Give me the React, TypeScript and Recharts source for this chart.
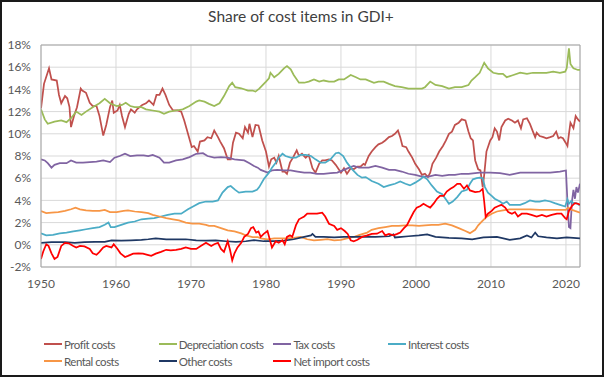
import React from 'react';
import { LineChart, Line, XAxis, YAxis, CartesianGrid, ReferenceLine } from 'recharts';

// [year, share %] pairs
const profitCosts: [number, number][] = [
    [1950.0, 12.3], [1950.4, 14.5], [1951.07, 15.9], [1951.4, 14.9], [1952.1, 14.8], [1952.4, 13.5], [1952.7, 12.75],
    [1953.2, 13.4], [1953.5, 13.2], [1953.8, 12.4], [1954.0, 10.6], [1954.4, 11.6], [1954.8, 12.4], [1955.3, 14.07],
    [1955.5, 13.9], [1956.0, 13.7], [1956.5, 12.8], [1956.9, 12.5], [1957.4, 12.5], [1957.8, 11.6], [1958.3, 9.84],
    [1958.7, 10.8], [1959.2, 12.4], [1959.5, 13.0], [1959.7, 11.9], [1960.2, 12.1], [1960.5, 12.6], [1960.8, 11.6],
    [1961.2, 10.6], [1961.7, 11.8], [1962.0, 12.2], [1962.5, 11.9], [1962.8, 12.2], [1963.5, 12.6], [1964.0, 12.75],
    [1964.4, 13.0], [1965.0, 12.6], [1965.4, 13.5], [1965.8, 13.5], [1966.2, 14.07], [1966.6, 13.5], [1967.1, 12.6],
    [1967.6, 12.1], [1968.2, 12.1], [1968.7, 12.0], [1969.1, 11.2], [1969.6, 10.0], [1970.1, 8.8], [1970.4, 8.9],
    [1970.9, 8.4], [1971.2, 9.3], [1971.8, 9.4], [1972.2, 9.7], [1972.7, 9.6], [1973.1, 10.3], [1973.6, 9.7],
    [1973.9, 9.3], [1974.4, 8.7], [1974.9, 7.7], [1975.3, 7.7], [1975.6, 9.2], [1976.0, 10.1], [1976.4, 10.0],
    [1976.9, 9.6], [1977.2, 10.6], [1977.6, 10.1], [1977.8, 10.9], [1978.2, 9.7], [1978.6, 10.8], [1979.0, 10.75],
    [1979.1, 10.5], [1979.5, 9.4], [1980.0, 8.4], [1980.4, 7.06], [1980.7, 7.7], [1981.1, 7.85], [1981.4, 7.4],
    [1981.7, 8.0], [1982.2, 6.6], [1982.5, 6.6], [1982.8, 6.4], [1983.2, 7.4], [1983.6, 7.85], [1984.1, 8.5],
    [1984.4, 8.0], [1984.8, 8.2], [1985.3, 7.85], [1985.7, 8.1], [1986.2, 6.9], [1986.6, 6.5], [1987.1, 7.3],
    [1987.5, 7.6], [1987.9, 7.6], [1988.4, 7.7], [1988.8, 7.6], [1989.3, 7.2], [1989.7, 6.8], [1990.0, 6.5],
    [1990.4, 6.9], [1990.8, 6.4], [1991.3, 6.9], [1991.7, 6.8], [1992.2, 7.05], [1992.6, 7.05], [1993.0, 7.3],
    [1993.2, 7.2], [1993.7, 8.0], [1994.1, 8.4], [1994.6, 8.8], [1995.0, 9.05], [1995.5, 9.2], [1995.9, 9.4],
    [1996.4, 9.7], [1996.8, 9.8], [1997.2, 10.0], [1997.6, 10.3], [1997.9, 9.7], [1998.2, 8.9], [1998.7, 8.8],
    [1999.0, 8.4], [1999.5, 7.85], [1999.9, 7.3], [2000.4, 6.8], [2000.8, 6.3], [2001.2, 6.4], [2001.6, 6.1],
    [2001.9, 6.5], [2002.2, 7.3], [2002.7, 7.85], [2003.1, 8.4], [2003.6, 8.9], [2004.0, 9.4], [2004.4, 10.0],
    [2004.8, 10.2], [2005.2, 10.8], [2005.7, 11.0], [2006.1, 11.3], [2006.6, 11.2], [2007.0, 10.2], [2007.3, 9.6],
    [2007.6, 9.4], [2007.9, 7.6], [2008.3, 6.8], [2008.6, 6.7], [2008.9, 5.2], [2009.1, 6.3], [2009.4, 8.4],
    [2009.9, 9.4], [2010.2, 9.7], [2010.5, 10.5], [2010.8, 10.2], [2011.1, 9.4], [2011.4, 10.6], [2011.9, 11.2],
    [2012.3, 11.35], [2012.8, 11.2], [2013.2, 11.0], [2013.6, 11.2], [2014.0, 10.5], [2014.3, 11.3], [2014.8, 11.4],
    [2015.2, 10.9], [2015.6, 10.2], [2015.9, 9.7], [2016.1, 10.1], [2016.5, 9.8], [2017.0, 9.7], [2017.4, 9.6],
    [2017.9, 9.7], [2018.3, 9.8], [2018.7, 10.2], [2019.0, 9.6], [2019.3, 9.7], [2019.6, 9.6], [2019.96, 9.2],
    [2020.2, 8.9], [2020.4, 10.0], [2020.6, 11.0], [2021.0, 10.5], [2021.3, 11.6], [2021.6, 11.3], [2021.87, 11.1],
];

const depreciationCosts: [number, number][] = [
    [1950.0, 12.2], [1950.5, 11.3], [1950.9, 10.9], [1951.8, 11.1], [1952.7, 11.2], [1953.4, 11.05], [1954.0, 11.4],
    [1954.7, 12.0], [1955.4, 11.7], [1956.0, 12.0], [1956.9, 12.4], [1957.8, 12.75], [1958.5, 13.15], [1959.2, 12.75],
    [1960.1, 12.5], [1960.8, 12.6], [1961.3, 12.8], [1961.9, 12.5], [1962.5, 12.4], [1963.4, 12.4], [1964.0, 12.2],
    [1964.9, 12.1], [1965.8, 12.0], [1966.4, 11.8], [1967.1, 12.0], [1968.0, 12.1], [1968.9, 12.2], [1969.8, 12.5],
    [1970.7, 12.9], [1971.1, 13.0], [1971.8, 12.9], [1972.4, 12.7], [1973.1, 12.5], [1973.8, 12.75], [1974.4, 13.4],
    [1975.1, 14.3], [1975.5, 14.6], [1975.9, 14.2], [1976.7, 14.1], [1977.6, 13.9], [1978.2, 13.9], [1978.6, 13.8],
    [1979.1, 14.07], [1980.0, 14.7], [1980.4, 15.0], [1980.6, 15.5], [1981.1, 15.1], [1981.7, 15.4], [1982.4, 15.9],
    [1982.8, 16.1], [1983.3, 15.8], [1983.7, 15.3], [1984.4, 14.6], [1985.1, 14.6], [1985.7, 14.7], [1986.4, 14.9],
    [1987.1, 14.7], [1987.7, 14.8], [1988.4, 14.7], [1989.1, 14.7], [1989.7, 14.9], [1990.4, 14.9], [1991.3, 15.3],
    [1992.0, 15.1], [1992.6, 14.9], [1993.3, 14.9], [1994.4, 14.6], [1995.0, 14.7], [1995.7, 14.7], [1996.4, 14.5],
    [1997.2, 14.3], [1998.1, 14.2], [1999.0, 14.07], [1999.9, 14.07], [2000.8, 14.07], [2001.2, 14.2], [2001.9, 14.7],
    [2002.6, 14.4], [2003.5, 14.3], [2004.4, 14.07], [2005.2, 14.2], [2006.1, 14.2], [2007.0, 14.4], [2007.4, 14.8],
    [2007.9, 15.1], [2008.5, 15.5], [2009.1, 16.4], [2009.6, 15.9], [2010.3, 15.5], [2011.0, 15.4], [2011.6, 15.4],
    [2012.1, 15.1], [2012.8, 15.25], [2013.9, 15.5], [2014.8, 15.4], [2015.6, 15.5], [2016.5, 15.5], [2017.4, 15.5],
    [2018.3, 15.6], [2019.2, 15.5], [2019.9, 15.6], [2020.1, 15.9], [2020.4, 17.7], [2020.6, 16.3], [2021.0, 15.9],
    [2021.6, 15.75], [2021.87, 15.75],
];

const taxCosts: [number, number][] = [
    [1950.0, 7.7], [1950.5, 7.6], [1950.9, 7.35], [1951.4, 6.95], [1951.8, 7.2], [1952.5, 7.35], [1953.4, 7.35],
    [1954.0, 7.6], [1954.7, 7.4], [1955.6, 7.4], [1956.5, 7.45], [1957.4, 7.5], [1958.3, 7.6], [1959.2, 7.45],
    [1959.8, 7.85], [1960.5, 8.0], [1961.2, 8.2], [1961.9, 8.0], [1962.8, 8.05], [1963.7, 8.05], [1964.3, 8.0],
    [1964.9, 8.1], [1965.8, 7.85], [1966.4, 7.4], [1967.1, 7.4], [1968.0, 7.6], [1968.9, 7.7], [1969.8, 7.9],
    [1970.7, 8.2], [1971.6, 8.25], [1972.2, 8.0], [1973.1, 7.85], [1974.0, 7.9], [1974.9, 7.85], [1975.8, 7.7],
    [1976.4, 7.65], [1977.1, 7.6], [1977.8, 7.35], [1978.4, 7.1], [1978.9, 6.95], [1979.3, 6.75], [1980.2, 6.5],
    [1980.8, 6.7], [1981.5, 6.75], [1982.4, 6.7], [1983.3, 6.7], [1984.2, 6.6], [1985.1, 6.5], [1985.9, 6.5],
    [1986.8, 6.4], [1987.7, 6.4], [1988.6, 6.45], [1989.5, 6.5], [1990.4, 6.75], [1991.1, 6.95], [1991.7, 7.1],
    [1992.4, 6.95], [1993.7, 6.95], [1994.6, 7.1], [1995.5, 6.95], [1996.4, 6.75], [1997.2, 6.75], [1998.1, 6.6],
    [1999.0, 6.4], [1999.9, 6.3], [2000.8, 6.15], [2001.7, 6.15], [2002.6, 6.3], [2003.5, 6.2], [2004.4, 6.3],
    [2005.2, 6.3], [2006.1, 6.4], [2007.0, 6.4], [2008.5, 6.5], [2009.9, 6.5], [2011.2, 6.45], [2012.5, 6.3],
    [2013.9, 6.5], [2015.2, 6.5], [2016.5, 6.5], [2017.9, 6.5], [2019.2, 6.6], [2020.0, 6.7], [2020.2, 3.9],
    [2020.4, 1.6], [2020.6, 1.5], [2020.8, 3.9], [2021.0, 4.95], [2021.2, 4.15], [2021.4, 5.2], [2021.6, 4.7],
    [2021.87, 5.5],
];

const interestCosts: [number, number][] = [
    [1950.0, 1.03], [1950.7, 0.85], [1951.6, 0.9], [1952.5, 1.03], [1953.4, 1.1], [1954.3, 1.2], [1955.2, 1.3],
    [1956.0, 1.4], [1956.9, 1.5], [1957.8, 1.6], [1958.5, 1.8], [1959.0, 2.0], [1959.3, 1.6], [1959.8, 1.6],
    [1960.7, 1.8], [1961.6, 2.0], [1962.5, 2.1], [1963.4, 2.3], [1964.3, 2.35], [1965.1, 2.4], [1966.0, 2.55],
    [1966.9, 2.7], [1967.8, 2.8], [1968.7, 2.8], [1969.6, 3.2], [1970.4, 3.5], [1971.1, 3.75], [1972.0, 3.9],
    [1972.9, 3.9], [1973.6, 4.0], [1974.2, 4.7], [1974.9, 5.2], [1975.3, 5.3], [1975.9, 4.95], [1976.4, 4.7],
    [1977.3, 4.8], [1978.2, 4.8], [1978.8, 4.95], [1979.1, 5.2], [1979.7, 5.9], [1980.4, 6.5], [1980.8, 6.95],
    [1981.3, 7.4], [1981.7, 7.85], [1982.2, 8.2], [1982.6, 8.0], [1983.3, 7.85], [1984.0, 7.85], [1984.6, 8.1],
    [1985.3, 8.1], [1986.0, 8.0], [1986.6, 7.7], [1987.3, 7.4], [1987.9, 7.4], [1988.6, 7.7], [1989.3, 8.25],
    [1989.7, 8.3], [1990.3, 8.0], [1990.8, 7.4], [1991.5, 6.8], [1992.2, 6.3], [1992.8, 6.05], [1993.3, 6.1],
    [1994.1, 5.75], [1995.0, 5.5], [1995.7, 5.2], [1996.4, 5.35], [1997.2, 5.5], [1997.9, 5.7], [1998.6, 5.5],
    [1999.2, 5.35], [1999.9, 5.6], [2000.6, 5.9], [2001.0, 6.15], [2001.5, 5.9], [2002.1, 5.35], [2002.8, 4.8],
    [2003.5, 4.55], [2004.1, 4.0], [2004.4, 3.7], [2004.9, 3.9], [2005.5, 4.3], [2006.1, 4.8], [2006.8, 4.95],
    [2007.2, 5.5], [2007.6, 5.9], [2008.1, 6.0], [2008.5, 6.05], [2008.9, 6.0], [2009.2, 5.2], [2009.6, 4.7],
    [2010.1, 4.4], [2010.5, 4.15], [2011.2, 3.9], [2011.6, 3.7], [2012.1, 3.9], [2012.5, 3.6], [2013.2, 3.6],
    [2013.9, 3.6], [2014.5, 3.75], [2015.2, 4.0], [2015.9, 3.9], [2016.5, 3.9], [2017.2, 4.0], [2017.9, 3.9],
    [2018.5, 3.75], [2019.2, 3.6], [2019.9, 3.45], [2020.2, 4.1], [2020.4, 3.7], [2020.7, 3.95], [2021.0, 3.75],
    [2021.4, 3.75], [2021.87, 3.55],
];

const rentalCosts: [number, number][] = [
    [1950.0, 3.05], [1950.7, 2.85], [1951.4, 2.9], [1952.3, 2.95], [1953.2, 3.05], [1954.0, 3.2], [1954.6, 3.35],
    [1955.2, 3.2], [1956.0, 3.1], [1956.9, 3.05], [1957.8, 3.05], [1958.5, 3.15], [1959.2, 2.95], [1960.1, 2.95],
    [1961.0, 3.05], [1961.6, 3.1], [1962.5, 3.0], [1963.4, 2.95], [1964.3, 2.85], [1964.9, 2.7], [1965.8, 2.55],
    [1966.7, 2.4], [1967.6, 2.3], [1968.4, 2.2], [1969.3, 2.0], [1970.2, 1.9], [1971.1, 1.9], [1972.0, 1.8],
    [1972.4, 1.7], [1973.1, 1.7], [1974.0, 1.5], [1974.9, 1.3], [1975.8, 1.2], [1976.7, 1.03], [1977.3, 0.85],
    [1978.2, 0.7], [1978.9, 0.7], [1979.3, 0.58], [1980.2, 0.5], [1981.1, 0.58], [1982.0, 0.58], [1982.8, 0.58],
    [1983.7, 0.63], [1984.6, 0.71], [1985.5, 0.5], [1986.4, 0.4], [1987.3, 0.45], [1988.2, 0.5], [1989.1, 0.4],
    [1990.0, 0.45], [1990.8, 0.58], [1991.7, 0.7], [1992.5, 0.9], [1993.5, 1.1], [1994.1, 1.35], [1995.0, 1.5],
    [1995.9, 1.6], [1996.8, 1.7], [1997.7, 1.7], [1998.6, 1.75], [1999.5, 1.75], [2000.4, 1.7], [2001.2, 1.75],
    [2002.1, 1.8], [2003.0, 1.8], [2003.9, 1.9], [2004.8, 1.75], [2005.7, 1.5], [2006.6, 1.25], [2007.2, 1.05],
    [2007.9, 1.35], [2008.3, 1.75], [2008.8, 2.1], [2009.4, 2.5], [2010.1, 2.8], [2010.8, 3.0], [2011.6, 3.1],
    [2012.5, 3.2], [2013.9, 3.2], [2015.2, 3.2], [2016.5, 3.15], [2017.9, 3.15], [2019.2, 3.15], [2020.0, 3.15],
    [2020.3, 3.35], [2020.8, 3.15], [2021.2, 3.05], [2021.87, 2.9],
];

const otherCosts: [number, number][] = [
    [1950.0, 0.18], [1951.4, 0.24], [1953.2, 0.24], [1954.5, 0.18], [1955.8, 0.24], [1957.2, 0.26], [1958.5, 0.26],
    [1959.4, 0.4], [1960.7, 0.37], [1962.0, 0.4], [1963.4, 0.45], [1964.3, 0.5], [1965.3, 0.58], [1966.7, 0.5],
    [1968.0, 0.5], [1969.3, 0.5], [1970.7, 0.4], [1972.0, 0.37], [1973.3, 0.4], [1974.7, 0.32], [1976.0, 0.26],
    [1977.3, 0.32], [1978.4, 0.42], [1979.7, 0.32], [1981.1, 0.32], [1982.4, 0.37], [1983.7, 0.5], [1985.1, 0.71],
    [1986.0, 0.85], [1986.2, 0.98], [1986.6, 0.71], [1987.7, 0.71], [1989.1, 0.66], [1990.4, 0.71], [1991.7, 0.71],
    [1993.3, 0.74], [1994.6, 0.71], [1996.4, 0.77], [1997.0, 0.93], [1997.2, 0.66], [1999.0, 0.77], [2000.4, 0.85],
    [2001.5, 0.93], [2002.6, 0.71], [2004.4, 0.63], [2006.1, 0.58], [2007.5, 0.5], [2009.0, 0.66], [2010.8, 0.71],
    [2012.5, 0.45], [2013.9, 0.58], [2014.8, 0.85], [2015.4, 0.66], [2015.9, 1.1], [2016.3, 0.77], [2017.4, 0.66],
    [2018.8, 0.58], [2020.1, 0.66], [2021.87, 0.58],
];

const netImportCosts: [number, number][] = [
    [1950.0, -1.27], [1950.3, -0.6], [1950.7, 0.05], [1951.0, -0.1], [1951.4, -0.77], [1951.8, -1.27], [1952.2, -1.1],
    [1952.7, -0.1], [1953.2, 0.18], [1953.7, 0.13], [1954.3, -0.1], [1954.7, -0.24], [1955.2, -0.1], [1955.8, -0.15],
    [1956.5, -0.37], [1956.9, -0.77], [1957.4, -0.9], [1957.8, -0.64], [1958.3, -0.24], [1958.7, -0.1], [1959.4, -0.24],
    [1959.7, 0.05], [1960.2, -0.37], [1960.6, -0.77], [1961.2, -1.1], [1961.6, -1.0], [1962.3, -0.8], [1963.0, -0.77],
    [1963.6, -0.8], [1964.2, -0.9], [1964.7, -1.0], [1965.3, -0.8], [1966.0, -0.64], [1966.7, -0.45], [1967.3, -0.5],
    [1968.0, -0.45], [1968.7, -0.37], [1969.3, -0.24], [1970.0, -0.37], [1970.7, -0.37], [1971.3, -0.1], [1972.0, 0.18],
    [1972.7, -0.1], [1973.1, 0.05], [1973.6, 0.18], [1974.0, -0.37], [1974.4, -0.64], [1974.9, 0.32], [1975.2, -0.45],
    [1975.5, -1.4], [1975.8, -0.77], [1976.2, -0.24], [1976.7, 0.18], [1977.1, 0.71], [1977.6, 0.98], [1978.0, 1.5],
    [1978.3, 1.6], [1978.7, 1.1], [1979.0, 1.2], [1979.3, 0.71], [1979.7, 0.98], [1980.2, 1.24], [1980.5, 0.5],
    [1980.8, -0.24], [1981.3, 0.32], [1981.7, 0.18], [1982.2, 0.4], [1982.5, 0.05], [1982.8, 0.71], [1983.2, 0.85],
    [1983.5, 0.71], [1984.0, 1.77], [1984.4, 2.3], [1985.1, 2.55], [1985.5, 2.8], [1986.2, 2.8], [1986.8, 2.8],
    [1987.5, 2.9], [1987.9, 2.55], [1988.4, 1.9], [1989.1, 1.7], [1989.5, 1.35], [1990.0, 1.5], [1990.5, 1.24],
    [1990.9, 0.98], [1991.3, 0.4], [1991.7, 0.32], [1992.2, 0.45], [1992.8, 0.71], [1993.5, 0.85], [1994.1, 0.98],
    [1994.8, 1.0], [1995.5, 1.24], [1995.9, 0.85], [1996.4, 0.98], [1997.0, 0.85], [1997.5, 0.98], [1997.9, 1.1],
    [1998.4, 1.5], [1998.8, 1.77], [1999.2, 2.3], [1999.7, 2.95], [2000.1, 3.35], [2000.6, 3.5], [2001.0, 3.7],
    [2001.5, 3.5], [2001.9, 3.35], [2002.4, 3.75], [2002.8, 4.15], [2003.2, 4.4], [2003.7, 4.4], [2004.1, 4.8],
    [2004.6, 5.05], [2005.0, 5.2], [2005.5, 5.5], [2005.9, 5.5], [2006.4, 5.05], [2006.8, 5.35], [2007.2, 4.9],
    [2007.9, 4.75], [2008.5, 4.8], [2008.9, 5.05], [2009.1, 3.9], [2009.3, 2.5], [2009.6, 2.8], [2010.1, 3.05],
    [2010.5, 3.35], [2011.0, 3.5], [2011.4, 3.6], [2011.9, 3.35], [2012.3, 2.95], [2012.8, 2.8], [2013.2, 2.95],
    [2013.6, 2.55], [2014.1, 2.8], [2014.8, 2.8], [2015.4, 2.7], [2016.1, 2.55], [2016.8, 2.7], [2017.4, 2.55],
    [2018.1, 2.7], [2018.8, 2.8], [2019.4, 2.8], [2019.9, 2.4], [2020.1, 2.3], [2020.4, 3.05], [2020.8, 3.5],
    [2021.2, 3.75], [2021.6, 3.7], [2021.87, 3.6],
];

const yearTicks = [1950, 1960, 1970, 1980, 1990, 2000, 2010, 2020];
const shareTicks = [-2, 0, 2, 4, 6, 8, 10, 12, 14, 16, 18];

const SERIES = [
    { name: 'Profit costs', data: profitCosts, color: '#C0504D' },
    { name: 'Depreciation costs', data: depreciationCosts, color: '#9BBB59' },
    { name: 'Tax costs', data: taxCosts, color: '#8064A2' },
    { name: 'Interest costs', data: interestCosts, color: '#4BACC6' },
    { name: 'Rental costs', data: rentalCosts, color: '#F79646' },
    { name: 'Other costs', data: otherCosts, color: '#1F3864' },
    { name: 'Net import costs', data: netImportCosts, color: '#FF0000' },
];

const FONT = 'Lato, "Open Sans", sans-serif';
const TICK = { fill: '#595959', fontSize: 12, fontFamily: FONT };

const LegendBox = () => (
    <div style={{ position: 'absolute', left: 0, top: 336, width: 605, height: 40, fontFamily: FONT, fontSize: 11.5, letterSpacing: -0.5, color: '#595959' }}>
        {SERIES.map((s, i) => {
            const col = i % 4;
            const row = Math.floor(i / 4);
            return (
                <div
                    key={s.name}
                    style={{ position: 'absolute', left: 44 + col * 114.7, top: row * 17, display: 'flex', alignItems: 'center', height: 16, whiteSpace: 'nowrap' }}
                >
                    <span style={{ display: 'inline-block', width: 18, height: 2, background: s.color, marginRight: 2 }} />
                    <span>{s.name}</span>
                </div>
            );
        })}
    </div>
);

export default function App() {
    return (
        <div style={{ position: 'absolute', left: 0, top: 0, width: 605, height: 377, background: '#fff' }}>
            <div style={{ position: 'absolute', left: 0, top: 0, width: 600, height: 373, border: '2px solid #1a1a1a', boxSizing: 'content-box' }} />
            <div style={{ position: 'absolute', left: 0, top: 7, width: 602, textAlign: 'center', fontFamily: FONT, fontSize: 15.5, color: '#404040' }}>
                Share of cost items in GDI+
            </div>
            <div style={{ position: 'absolute', left: 0, top: 0 }}>
                <LineChart width={605} height={377} margin={{ top: 45, right: 25, bottom: 80, left: 0 }}>
                    <CartesianGrid stroke="#D9D9D9" strokeWidth={1} />
                    <XAxis
                        type="number"
                        dataKey="year"
                        domain={[1950, 2021.875]}
                        ticks={yearTicks}
                        interval={0}
                        allowDataOverflow
                        tickLine={false}
                        axisLine={{ stroke: '#A6A6A6' }}
                        tick={TICK}
                        dy={4}
                    />
                    <YAxis
                        type="number"
                        domain={[-2, 18]}
                        ticks={shareTicks}
                        interval={0}
                        width={41}
                        tickLine={false}
                        axisLine={{ stroke: '#A6A6A6' }}
                        tick={TICK}
                        tickFormatter={(v) => `${v}%`}
                        dx={-2}
                    />
                    <ReferenceLine y={18} stroke="#A6A6A6" />
                    <ReferenceLine x={2021.875} stroke="#A6A6A6" />
                    {SERIES.map((s) => (
                        <Line
                            key={s.name}
                            data={s.data.map(([year, v]) => ({ year, v }))}
                            dataKey="v"
                            name={s.name}
                            type="linear"
                            stroke={s.color}
                            strokeWidth={1.75}
                            dot={false}
                            isAnimationActive={false}
                        />
                    ))}
                </LineChart>
            </div>
            <LegendBox />
        </div>
    );
}
